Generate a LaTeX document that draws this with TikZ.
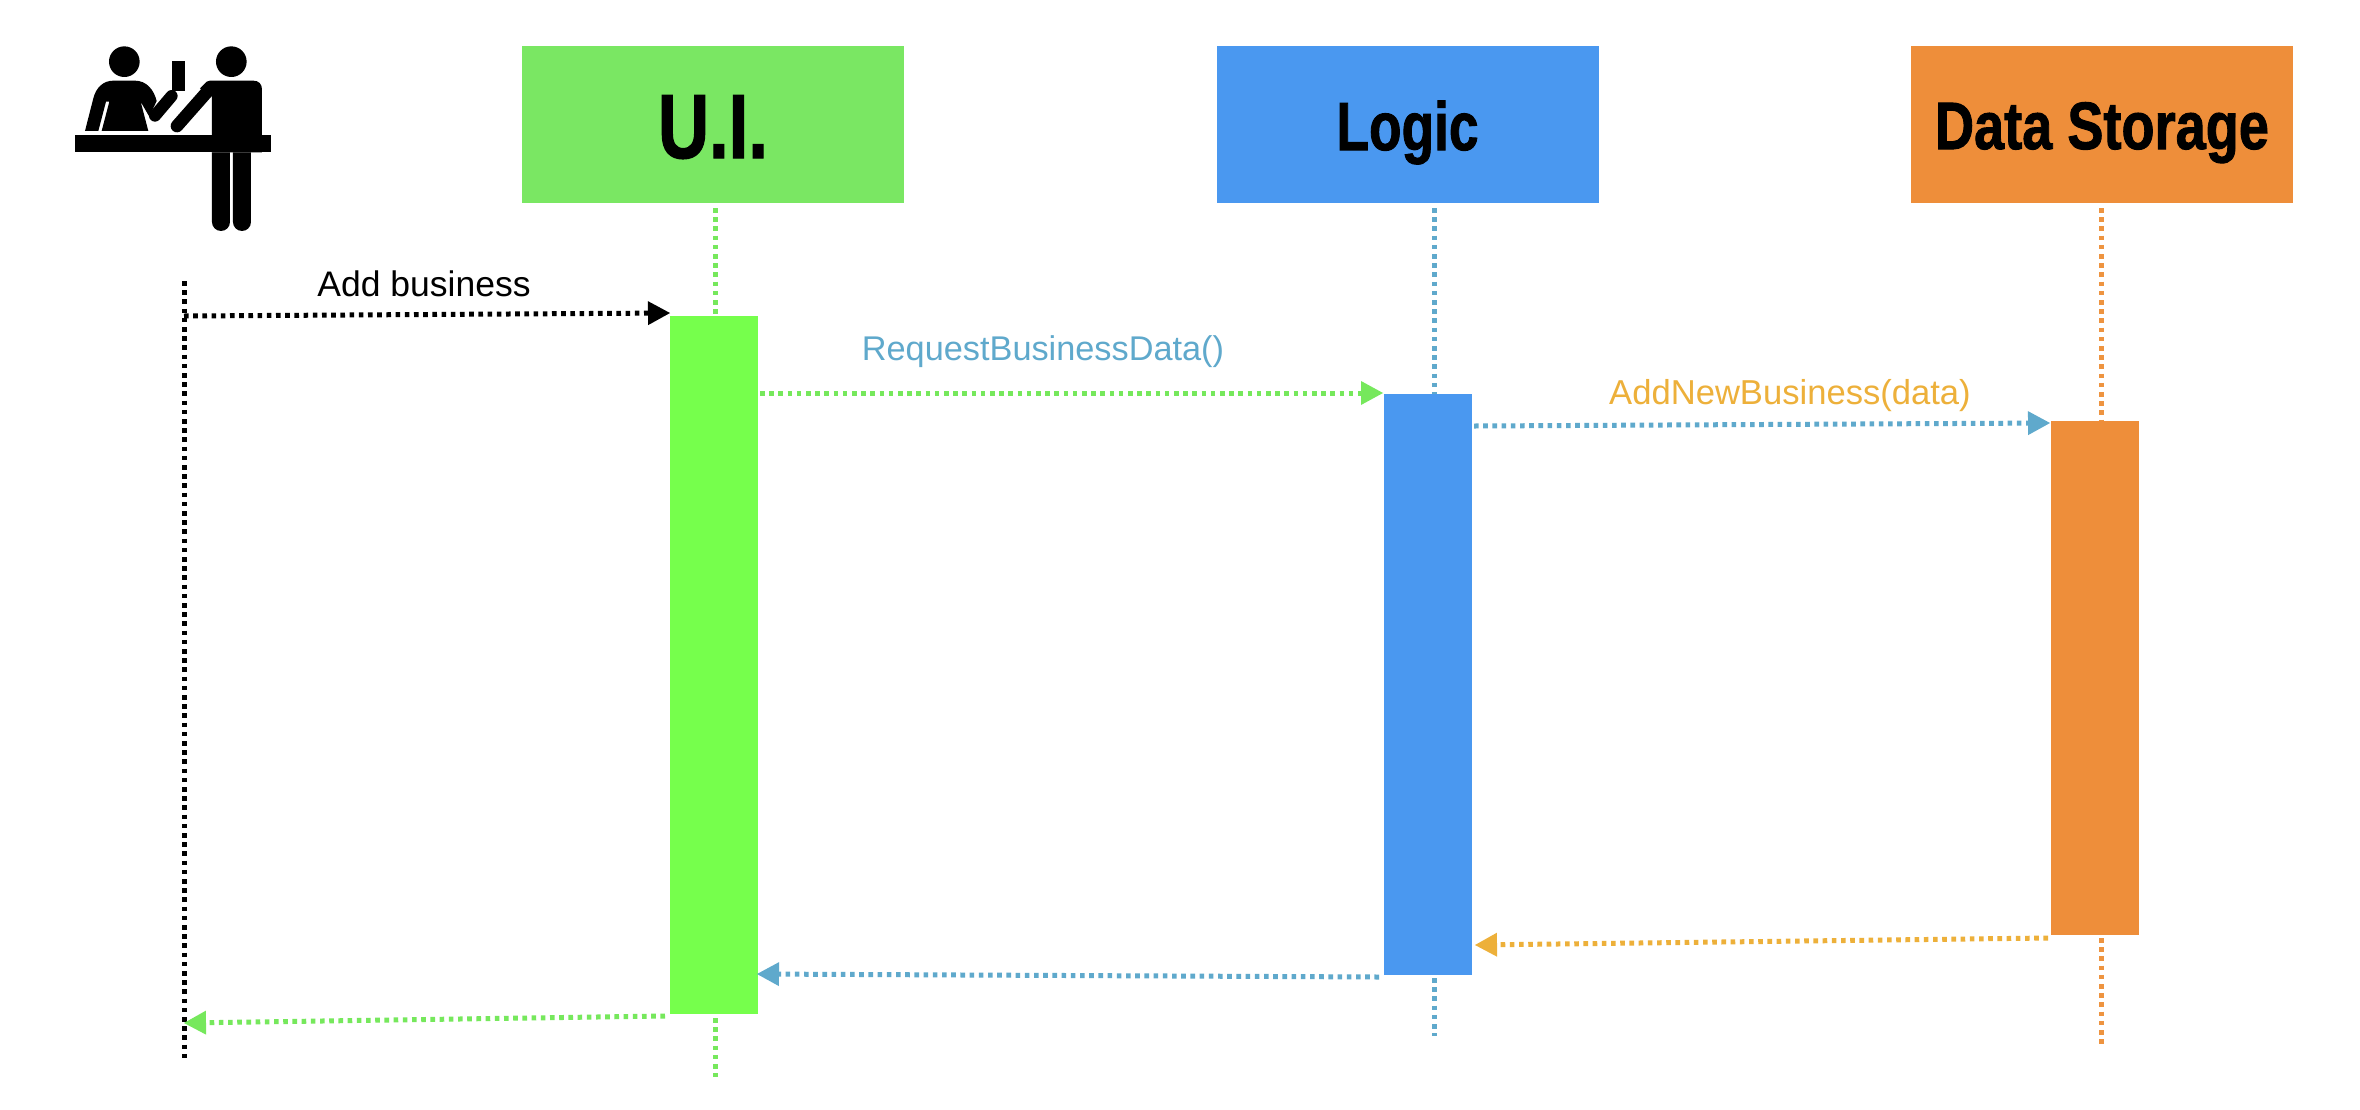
\documentclass[tikz,border=0pt]{standalone}
\usepackage{fontspec}
\setmainfont{Liberation Sans}
\newfontfamily\headfont[FakeBold=1.5]{Liberation Sans Bold}
\usetikzlibrary{arrows.meta}
\definecolor{hgreen}{HTML}{7AE763}
\definecolor{hblue}{HTML}{4A98F0}
\definecolor{horange}{HTML}{EE8E3A}
\definecolor{bgreen}{HTML}{76FF4C}
\definecolor{lgreen}{HTML}{76E85C}
\definecolor{lblue}{HTML}{5FA9CC}
\definecolor{lorange}{HTML}{EDB03A}
\definecolor{lifeorange}{HTML}{EE9440}
\tikzset{
  x=1pt,y=-1pt,
  header/.style={fill=#1,minimum width=382pt,minimum height=157pt,inner sep=0pt,text=black},
  actbar/.style={fill=#1,inner sep=0pt,minimum width=88pt},
  lifeline/.style={draw=#1,line width=5pt,dash pattern=on 4.6pt off 4.6pt},
  msg/.style={draw=#1,line width=5pt,dash pattern=on 4.6pt off 4.6pt},
  tipped/.style={-{Triangle[length=22pt,width=24pt,color=#1,line width=0pt]}},
  label/.style={font=\fontsize{#1}{#1}\selectfont,inner sep=0pt}
}
\begin{document}
\begin{tikzpicture}
\useasboundingbox (0,0) rectangle (2360,1109);
\fill[white] (0,0) rectangle (2360,1109);
% headers
\node[header=hgreen,text height=67pt,text depth=0pt] (ui) at (713,124.5)
  {\resizebox{110pt}{\height}{\headfont\fontsize{91}{91}\selectfont U.I.}};
\node[header=hblue,text height=60pt,text depth=9pt] (logic) at (1407.5,124.5)
  {\resizebox{142pt}{\height}{\headfont\fontsize{68}{68}\selectfont Logic}};
\node[header=horange,text height=60pt,text depth=11pt] (store) at (2102,124.5)
  {\resizebox{334pt}{\height}{\headfont\fontsize{67}{67}\selectfont Data Storage}};
% activation bars
\node[actbar=bgreen,minimum height=698pt] (uibar) at (713.5,665) {};
\node[actbar=hblue,minimum height=581pt] (logicbar) at (1427.5,684.5) {};
\node[actbar=horange,minimum height=514pt] (storebar) at (2094.5,678) {};
% free ends
\coordinate (uitop) at (715,208); \coordinate (uitopb) at (715,316);
\coordinate (uibot) at (715,1018); \coordinate (uiend) at (715,1077);
\coordinate (lotop) at (1434,208); \coordinate (lotopb) at (1434,394);
\coordinate (lobot) at (1434,978); \coordinate (loend) at (1434,1036);
\coordinate (sttop) at (2101,208); \coordinate (sttopb) at (2101,421);
\coordinate (stbot) at (2101,938); \coordinate (stend) at (2101,1048);
\coordinate (usertop) at (184,281); \coordinate (userend) at (184,1061);
\coordinate (userout) at (184,316); \coordinate (a1) at (670,313);
\coordinate (b0) at (760,393); \coordinate (b1) at (1383,393);
\coordinate (c0) at (1474,426); \coordinate (c1) at (2050,423);
\coordinate (d0) at (2048,938); \coordinate (d1) at (1475,945);
\coordinate (e0) at (1379,977); \coordinate (e1) at (757,974);
\coordinate (f0) at (665,1016); \coordinate (f1) at (184,1023);
% lifelines
\draw[lifeline=lgreen] (uitop) -- (uitopb);
\draw[lifeline=lgreen] (uibot) -- (uiend);
\draw[lifeline=lblue] (lotop) -- (lotopb);
\draw[lifeline=lblue] (lobot) -- (loend);
\draw[lifeline=lifeorange] (sttop) -- (sttopb);
\draw[lifeline=lifeorange] (stbot) -- (stend);
\draw[lifeline=black] (usertop) -- (userend);
% messages
\draw[msg=black,tipped=black] (userout) -- (a1);
\draw[msg=lgreen,tipped=lgreen] (b0) -- (b1);
\draw[msg=lblue,tipped=lblue] (c0) -- (c1);
\draw[msg=lorange,tipped=lorange] (d0) -- (d1);
\draw[msg=lblue,tipped=lblue] (e0) -- (e1);
\draw[msg=lgreen,tipped=lgreen] (f0) -- (f1);
% labels
\node[label=35.5,text=black] (l1) at (424,284) {Add business};
\node[label=34.3,text=lblue] (l2) at (1043,352) {RequestBusinessData()};
\node[label=34.6,text=lorange] (l3) at (1790,396) {AddNewBusiness(data)};
% clerk icon
\begin{scope}[shift={(50,20)},x=0.3333pt,y=-0.3333pt]
  \fill[black] (76,345) rectangle (662,397);
  \fill[black] (223,125) circle[radius=46pt/3];
  \fill[black] (544,125) circle[radius=46pt/3];
  \fill[black] (365,122) rectangle (406,212);
  % left person
  \fill[black] (105,333) -- (130,235) .. controls (138,203) and (160,182) .. (190,182)
     -- (255,182) .. controls (290,182) and (312,210) .. (320,243) -- (298,290) -- (272,245) -- (295,333)
     -- (155,333) -- (178,245) -- (168,245) -- (145,333) -- cycle;
  \draw[black,line width=36pt/3,line cap=round] (315,287) -- (365,228);
  % right person
  \fill[black] (486,397) -- (486,230) -- (450,205) -- (470,185) .. controls (474,182) and (476,182) .. (480,182)
     -- (610,182) .. controls (626,182) and (636,192) .. (636,208) -- (636,397) -- cycle;
  \draw[black,line width=38pt/3,line cap=round] (381,318) -- (478,208);
  \fill[black] (486,397) -- (486,606) arc[start angle=180,end angle=360,x radius=27,y radius=-27] -- (540,397) -- cycle;
  \fill[black] (549,397) -- (549,606) arc[start angle=180,end angle=360,x radius=27,y radius=-27] -- (603,397) -- cycle;
\end{scope}
\end{tikzpicture}
\end{document}
